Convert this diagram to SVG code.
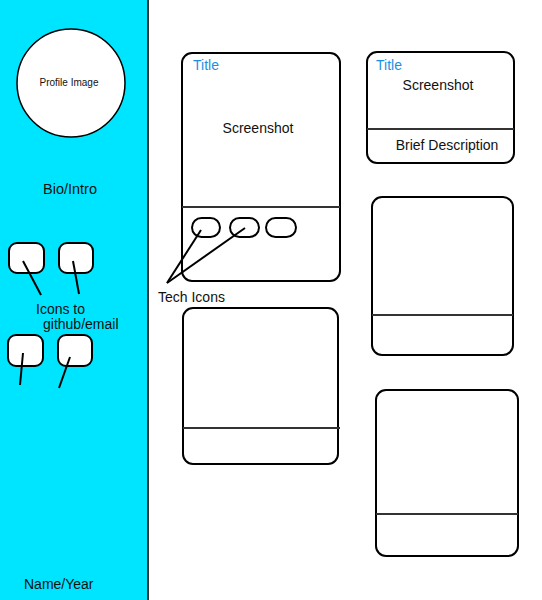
<svg xmlns="http://www.w3.org/2000/svg" width="542" height="600" viewBox="0 0 542 600">
<style>
text{font-family:"Liberation Sans",Arial,sans-serif;fill:#111}
.card{fill:#fff;stroke:#000;stroke-width:2}
.div{stroke:#333;stroke-width:2}
.icon{fill:#fff;stroke:#000;stroke-width:2}
.conn{stroke:#000;stroke-width:2;fill:none}
.title{fill:#1e8fe0;font-size:14px}
.lbl{font-size:14px}
</style>
<rect width="542" height="600" fill="#fff"/>
<g id="sidebar">
<rect x="0" y="0" width="148" height="600" fill="#00e5ff"/>
<line x1="148" y1="0" x2="148" y2="600" stroke="#333" stroke-width="2"/>
</g>
<g id="profile">
<circle cx="71" cy="83" r="54" fill="#fff" stroke="#000" stroke-width="1.5"/>
<text x="69" y="86" font-size="10" text-anchor="middle">Profile Image</text>
</g>
<g id="bio"><text class="lbl" x="43" y="194" style="font-size:14.5px">Bio/Intro</text></g>
<g id="icon1"><rect class="icon" x="9" y="243" width="35" height="30" rx="8"/></g>
<g id="icon2"><rect class="icon" x="59" y="243" width="34" height="30" rx="8"/></g>
<g id="icon3"><rect class="icon" x="8" y="335" width="35" height="31" rx="8"/></g>
<g id="icon4"><rect class="icon" x="58" y="335" width="34" height="31" rx="8"/></g>
<g id="iconsLabel">
<text class="lbl" x="36" y="314">Icons to</text>
<text class="lbl" x="43" y="329">github/email</text>
</g>
<g id="nameYear"><text class="lbl" x="24" y="589">Name/Year</text></g>
<g id="card1">
<rect class="card" x="182" y="53" width="158" height="228" rx="10"/>
<line class="div" x1="182" y1="207" x2="340" y2="207"/>
<text class="title" x="193" y="70">Title</text>
<text class="lbl" x="258" y="133" text-anchor="middle">Screenshot</text>
</g>
<g id="pill1"><rect class="icon" x="192" y="218" width="28" height="19" rx="9.5"/></g>
<g id="pill2"><rect class="icon" x="230" y="218" width="29" height="19" rx="9.5"/></g>
<g id="pill3"><rect class="icon" x="266" y="218" width="30" height="19" rx="9.5"/></g>
<g id="techLabel"><text class="lbl" x="158" y="302">Tech Icons</text></g>
<g id="card2">
<rect class="card" x="367" y="52" width="147" height="111" rx="10"/>
<line class="div" x1="367" y1="129" x2="514" y2="129"/>
<text class="title" x="376" y="70">Title</text>
<text class="lbl" x="438" y="90" text-anchor="middle">Screenshot</text>
<text class="lbl" x="447" y="150" text-anchor="middle">Brief Description</text>
</g>
<g id="card3">
<rect class="card" x="183" y="308" width="155" height="156" rx="10"/>
<line class="div" x1="183" y1="428" x2="340" y2="428"/>
</g>
<g id="card4">
<rect class="card" x="372" y="197" width="141" height="158" rx="10"/>
<line class="div" x1="372" y1="315" x2="513" y2="315"/>
</g>
<g id="card5">
<rect class="card" x="376" y="390" width="142" height="166" rx="10"/>
<line class="div" x1="376" y1="514" x2="518" y2="514"/>
</g>
<g id="connectors">
<line class="conn" x1="23" y1="261" x2="41" y2="295"/>
<line class="conn" x1="73" y1="261" x2="79" y2="294"/>
<line class="conn" x1="23" y1="353" x2="20" y2="385"/>
<line class="conn" x1="70" y1="357" x2="59" y2="388"/>
<line class="conn" x1="201" y1="230" x2="167" y2="283"/>
<line class="conn" x1="245" y1="228" x2="167" y2="283"/>
</g>
</svg>
